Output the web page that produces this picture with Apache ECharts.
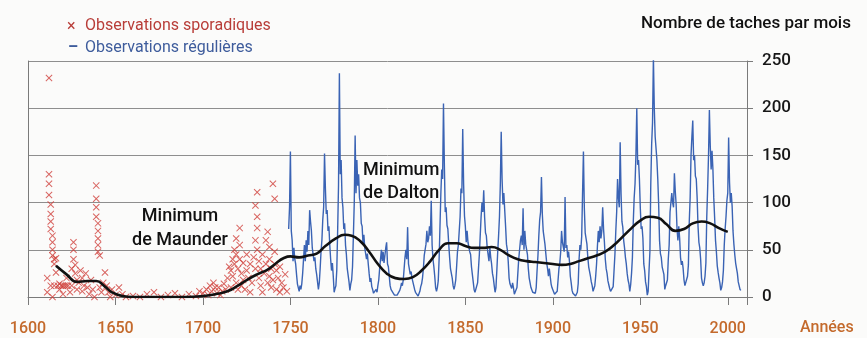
<!DOCTYPE html>
<html>
<head>
<meta charset="utf-8">
<script src="https://cdn.jsdelivr.net/npm/echarts@6/dist/echarts.min.js"></script>
<style>
  html, body { margin: 0; padding: 0; background: #fbfbfa; }
  #chart { width: 867px; height: 338px; }
</style>
</head>
<body>
<div id="chart"></div>
<script>
// sporadic observations, [year, monthly count]
const sporadicPoints = [
  [1611, 20], [1611, 5], [1612, 232], [1612, 130], [1612, 120], [1612, 108], [1613, 98], [1613, 88],
  [1613, 80], [1613, 72], [1614, 65], [1614, 58], [1614, 50], [1614, 44], [1615, 40], [1615, 35],
  [1613, 12], [1614, 0], [1615, 12], [1616, 41], [1616, 26], [1617, 12], [1618, 8], [1618, 14],
  [1619, 12], [1620, 12], [1620, 3], [1621, 12], [1622, 12], [1622, 20], [1623, 12], [1624, 5],
  [1625, 12], [1625, 30], [1626, 58], [1626, 50], [1626, 40], [1627, 34], [1627, 25], [1628, 18],
  [1628, 8], [1629, 15], [1630, 28], [1631, 20], [1631, 6], [1632, 12], [1633, 25], [1634, 10],
  [1635, 3], [1636, 18], [1637, 8], [1638, 0], [1639, 118], [1639, 104], [1639, 95], [1639, 85],
  [1640, 78], [1640, 70], [1640, 62], [1640, 55], [1640, 48], [1641, 44], [1641, 10], [1642, 5],
  [1643, 15], [1644, 26], [1645, 12], [1646, 5], [1647, 0], [1648, 8], [1650, 2], [1652, 10],
  [1654, 3], [1656, 0], [1660, 1], [1664, 0], [1668, 3], [1672, 5], [1676, 0], [1680, 2],
  [1684, 4], [1688, 0], [1692, 3], [1696, 1], [1698, 6], [1700, 4], [1702, 8], [1703, 2],
  [1704, 12], [1705, 6], [1706, 15], [1707, 10], [1708, 4], [1709, 10], [1710, 2], [1711, 6],
  [1712, 14], [1713, 8], [1714, 20], [1715, 32], [1716, 28], [1716, 10], [1717, 40], [1717, 22],
  [1718, 50], [1718, 35], [1719, 62], [1719, 45], [1719, 15], [1720, 30], [1720, 8], [1721, 73],
  [1721, 55], [1721, 40], [1722, 25], [1722, 12], [1723, 36], [1723, 18], [1724, 8], [1725, 28],
  [1725, 45], [1726, 20], [1727, 35], [1727, 5], [1728, 15], [1729, 42], [1730, 97], [1730, 60],
  [1730, 30], [1731, 111], [1731, 85], [1731, 73], [1731, 50], [1732, 38], [1732, 20], [1733, 12],
  [1733, 30], [1734, 45], [1734, 5], [1735, 25], [1736, 60], [1736, 35], [1737, 69], [1737, 15],
  [1738, 53], [1738, 40], [1738, 22], [1739, 30], [1739, 10], [1740, 120], [1740, 18], [1741, 104],
  [1741, 48], [1741, 35], [1742, 28], [1742, 8], [1743, 20], [1744, 32], [1744, 5], [1745, 15],
  [1746, 10], [1747, 24], [1748, 6]
]

// regular observations, two readings per year from 1749
const regularStart = 1749
const regularValues = [
  72, 95,
  154, 70, 60, 38, 52, 40, 35, 24, 14, 10, 6, 12, 8, 14, 25, 40, 55, 38, 60, 48,
  70, 55, 92, 80, 70, 52, 50, 38, 42, 30, 24, 16, 8, 15, 30, 48, 60, 82, 95, 152,
  115, 88, 92, 70, 75, 55, 40, 28, 36, 22, 5, 9, 12, 28, 70, 118, 237, 130, 145, 105,
  95, 72, 78, 55, 45, 30, 28, 16, 7, 14, 18, 32, 65, 100, 171, 110, 145, 118, 130, 105,
  100, 78, 75, 56, 66, 52, 52, 40, 46, 35, 25, 16, 20, 11, 8, 4, 3, 5, 8, 5,
  12, 18, 30, 40, 50, 38, 48, 36, 44, 52, 58, 35, 32, 22, 12, 8, 10, 5, 3, 2,
  0, 1, 2, 1, 4, 7, 10, 15, 12, 18, 30, 42, 50, 40, 74, 35, 35, 24, 27, 20,
  18, 12, 8, 5, 5, 3, 1, 2, 6, 11, 14, 20, 30, 44, 45, 56, 70, 58, 62, 75,
  65, 102, 55, 40, 32, 22, 10, 6, 10, 17, 40, 75, 110, 135, 125, 205, 140, 90, 95, 76,
  72, 56, 42, 30, 28, 20, 12, 8, 12, 18, 32, 48, 55, 70, 85, 115, 110, 178, 120, 86,
  75, 58, 70, 58, 60, 48, 45, 32, 24, 16, 8, 5, 3, 6, 15, 30, 45, 65, 85, 100,
  90, 113, 85, 68, 65, 52, 50, 38, 52, 42, 35, 25, 20, 12, 5, 10, 28, 48, 65, 85,
  120, 175, 125, 98, 110, 92, 75, 56, 50, 38, 20, 14, 13, 9, 15, 10, 3, 4, 2, 10,
  25, 40, 50, 60, 65, 55, 94, 50, 70, 56, 58, 45, 30, 20, 15, 10, 8, 5, 7, 5,
  4, 10, 28, 44, 65, 82, 90, 127, 88, 70, 72, 56, 46, 36, 30, 22, 30, 22, 14, 10,
  11, 8, 3, 2, 4, 6, 18, 30, 36, 48, 70, 58, 58, 48, 106, 52, 55, 42, 48, 38,
  22, 15, 7, 4, 3, 4, 1, 2, 5, 14, 40, 55, 50, 64, 110, 154, 95, 68, 70, 56,
  42, 32, 30, 22, 16, 12, 6, 5, 12, 22, 35, 54, 70, 58, 75, 62, 70, 95, 72, 58,
  40, 30, 25, 17, 13, 9, 6, 5, 6, 11, 28, 45, 70, 90, 125, 105, 95, 164, 110, 80,
  74, 60, 52, 42, 35, 25, 18, 14, 6, 13, 25, 42, 80, 105, 120, 150, 200, 140, 145, 125,
  95, 72, 75, 62, 35, 28, 16, 11, 2, 6, 28, 48, 120, 162, 185, 254, 200, 170, 170, 145,
  125, 98, 60, 46, 42, 32, 30, 24, 8, 12, 14, 18, 40, 55, 90, 100, 110, 100, 95, 131,
  112, 98, 72, 60, 75, 62, 42, 34, 38, 30, 18, 12, 12, 14, 22, 34, 80, 105, 150, 170,
  187, 145, 150, 128, 125, 105, 75, 58, 52, 40, 20, 15, 12, 15, 22, 36, 85, 115, 150, 198,
  160, 135, 155, 136, 105, 84, 60, 48, 33, 26, 20, 15, 7, 10, 16, 28, 55, 72, 85, 102,
  110, 169, 122, 100, 110, 96, 70, 56, 45, 36, 34, 25, 16, 14, 8, 7
]

// smoothed mean
const smoothedPoints = [
  [1616, 33], [1622, 24], [1628, 16], [1634, 17], [1639, 17], [1644, 11], [1648, 5], [1654, 1],
  [1660, 0], [1670, 0], [1680, 0], [1690, 0], [1700, 1], [1707, 3], [1714, 6], [1720, 12],
  [1725, 18], [1731, 24], [1737, 29], [1742, 36], [1746, 41], [1750, 43], [1755, 42], [1760, 44],
  [1765, 46], [1770, 54], [1776, 62], [1781, 66], [1785, 65], [1790, 59], [1795, 48], [1800, 35],
  [1805, 25], [1810, 20], [1815, 19], [1820, 21], [1825, 28], [1830, 38], [1835, 50], [1840, 57],
  [1845, 57], [1850, 54], [1855, 52], [1860, 52], [1865, 53], [1870, 50], [1875, 44], [1880, 40],
  [1885, 38], [1890, 37], [1895, 36], [1900, 35], [1905, 34], [1910, 35], [1915, 38], [1920, 41],
  [1925, 44], [1930, 48], [1935, 55], [1940, 64], [1945, 73], [1950, 81], [1955, 85], [1960, 84],
  [1965, 77], [1970, 70], [1975, 72], [1980, 78], [1985, 80], [1990, 78], [1995, 73], [2000, 69]
]

const yearTicks = [1600, 1650, 1700, 1750, 1800, 1850, 1900, 1950, 2000]

const regularPoints = regularValues.map((v, i) => [regularStart + i / 2, v])

const ORANGE = '#c46a2c'
const RED = '#b83d38'
const BLUE = '#3e5c9c'
const FONT = 'Roboto, sans-serif'
const CROSS = 'path://M0,1L1,0L5,4L9,0L10,1L6,5L10,9L9,10L5,6L1,10L0,9L4,5Z'

const chart = echarts.init(document.getElementById('chart'), null, { renderer: 'canvas' })

chart.setOption({
  animation: false,
  backgroundColor: '#fbfbfa',
  textStyle: { fontFamily: FONT },
  grid: { left: 28, right: 120, top: 61, bottom: 41 },
  xAxis: {
    type: 'value',
    min: 1600,
    max: 2011,
    interval: 50,
    axisLine: { lineStyle: { color: '#7a7a7a', width: 1 } },
    axisTick: { length: 8, lineStyle: { color: '#7a7a7a' } },
    axisLabel: {
      color: ORANGE,
      fontSize: 16,
      fontWeight: 500,
      margin: 24,
      formatter: v => (yearTicks.includes(v) ? String(v) : '')
    },
    splitLine: { show: false }
  },
  yAxis: [
    {
      type: 'value',
      position: 'right',
      min: 0,
      max: 250,
      interval: 50,
      axisLine: { show: true, lineStyle: { color: '#7a7a7a' } },
      axisTick: { show: true, length: 6, lineStyle: { color: '#7a7a7a' } },
      axisLabel: { color: '#161616', fontSize: 17, fontWeight: 500, margin: 15 },
      splitLine: { lineStyle: { color: '#8e8e8e', width: 1 } }
    },
    {
      type: 'value',
      position: 'left',
      min: 0,
      max: 250,
      interval: 50,
      axisLine: { show: true, lineStyle: { color: '#7a7a7a' } },
      axisTick: { show: false },
      axisLabel: { show: false },
      splitLine: { show: false }
    }
  ],
  graphic: [
    { type: 'text', x: 67, y: 27, style: { text: '×', fill: RED, font: '16px ' + FONT, verticalAlign: 'middle' } },
    { type: 'text', x: 85, y: 26, style: { text: 'Observations sporadiques', fill: RED, font: '16px ' + FONT, verticalAlign: 'middle' } },
    { type: 'text', x: 68, y: 48, style: { text: '–', fill: BLUE, font: 'bold 16px ' + FONT, verticalAlign: 'middle' } },
    { type: 'text', x: 85, y: 48, style: { text: 'Observations régulières', fill: BLUE, font: '16px ' + FONT, verticalAlign: 'middle' } },
    { type: 'text', x: 746, y: 24, style: { text: 'Nombre de taches par mois', fill: '#111', font: '500 17px ' + FONT, align: 'center', verticalAlign: 'middle' } },
    { type: 'text', x: 800, y: 328, style: { text: 'Années', fill: ORANGE, font: '500 16px ' + FONT, verticalAlign: 'middle' } },
    { type: 'text', x: 180, y: 228, style: { text: 'Minimum\nde Maunder', fill: '#111', font: '500 18px ' + FONT, align: 'center', verticalAlign: 'middle', lineHeight: 24 } },
    { type: 'text', x: 363, y: 182, style: { text: 'Minimum\nde Dalton', fill: '#111', font: '500 18px ' + FONT, align: 'left', verticalAlign: 'middle', lineHeight: 23 } }
  ],
  series: [
    {
      name: 'Observations sporadiques',
      type: 'scatter',
      data: sporadicPoints,
      symbol: CROSS,
      symbolSize: 7,
      itemStyle: { color: '#cf3f3a', opacity: 0.8 }
    },
    {
      name: 'Observations régulières',
      type: 'line',
      data: regularPoints,
      showSymbol: false,
      symbol: 'none',
      lineStyle: { color: '#3a63b4', width: 1.4 }
    },
    {
      name: 'Moyenne',
      type: 'line',
      data: smoothedPoints,
      smooth: 0.5,
      showSymbol: false,
      symbol: 'none',
      lineStyle: { color: '#111', width: 2.6 }
    }
  ]
})
</script>
</body>
</html>
